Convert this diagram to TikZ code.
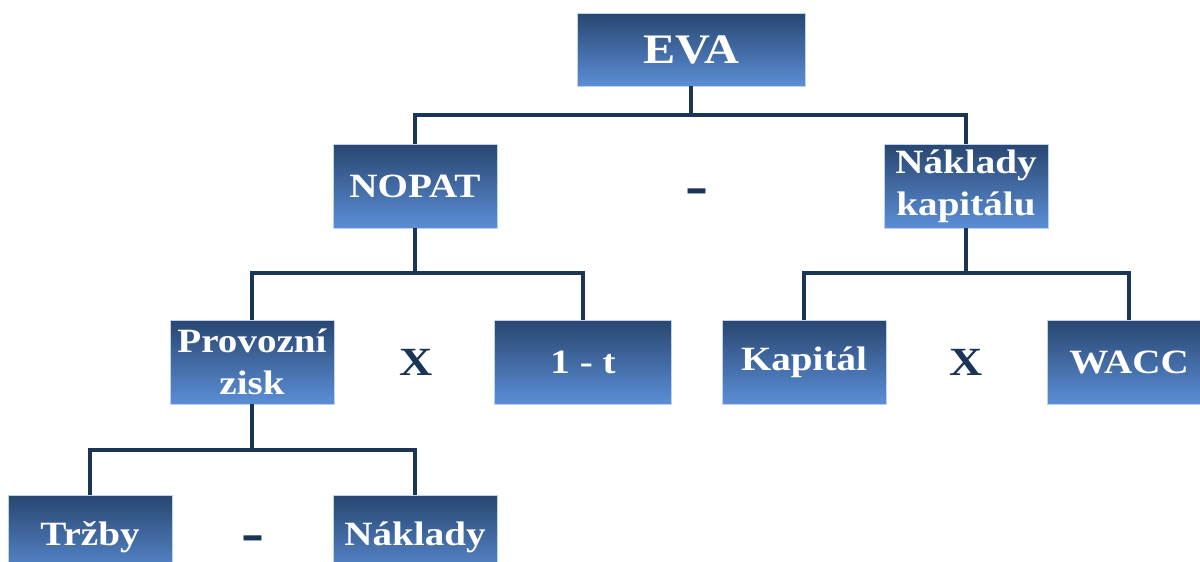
\documentclass[tikz,border=0pt]{standalone}
\usepackage{fontspec}
\setmainfont{Liberation Serif}
\newfontfamily\widefont{Liberation Serif}[FakeStretch=1.15]
\usepackage{tikz}
\usetikzlibrary{positioning}
\definecolor{navy}{HTML}{1B3557}
\definecolor{boxtop}{HTML}{284670}
\definecolor{boxbot}{HTML}{5B8ED6}

\begin{document}
\begin{tikzpicture}[x=0.5pt,y=-0.5pt]
        \useasboundingbox (0,0) rectangle (1200,562);
        \clip (0,0) rectangle (1200,562);
        \begin{scope}[every node/.style={rectangle,draw=boxbot!40,line width=0.4pt,top color=boxtop,bottom color=boxbot,text=white,align=center,inner sep=2pt,minimum width=82pt,minimum height=42pt,font=\widefont\bfseries\fontsize{17}{21}\selectfont}]
          \node[minimum width=114pt,minimum height=36.5pt,font=\widefont\bfseries\fontsize{21}{24}\selectfont] (eva) at (691,49.5) {EVA};
          \node (nopat) at (415,186) {NOPAT};
          \node (nkap) at (966,186) {Náklady\\kapitálu};
          \node (zisk) at (252,362) {Provozní\\zisk};
          \node[minimum width=88.5pt] (dan) at (583,362) {1 - t};
          \node (kapital) at (804,362) {Kapitál};
          \node (wacc) at (1129,362) {WACC};
          \node (trzby) at (90,537) {Tržby};
          \node (naklady) at (415,537) {Náklady};
        \end{scope}
        \begin{scope}[every node/.style={text=navy,font=\widefont\bfseries\fontsize{20}{22}\selectfont}]
          \node[anchor=base,inner sep=0pt,font=\widefont\bfseries\fontsize{30}{30}\selectfont] (minus1) at (697,205) {-};
          \node (krat1) at (416,362) {X};
          \node (krat2) at (966,362) {X};
          \node[anchor=base,inner sep=0pt,font=\widefont\bfseries\fontsize{30}{30}\selectfont] (minus2) at (253,552) {-};
        \end{scope}
        \begin{scope}[every path/.style={draw=navy,line width=2pt}]
          \draw (eva.south) -- ++(0,29) -| (nopat.north);
          \draw (eva.south) -- ++(0,29) -| (nkap.north);
          \draw (nopat.south) -- ++(0,45) -| (zisk.north);
          \draw (nopat.south) -- ++(0,45) -| (dan.north);
          \draw (nkap.south) -- ++(0,45) -| (kapital.north);
          \draw (nkap.south) -- ++(0,45) -| (wacc.north);
          \draw (zisk.south) -- ++(0,46) -| (trzby.north);
          \draw (zisk.south) -- ++(0,46) -| (naklady.north);
        \end{scope}
\end{tikzpicture}
\end{document}
